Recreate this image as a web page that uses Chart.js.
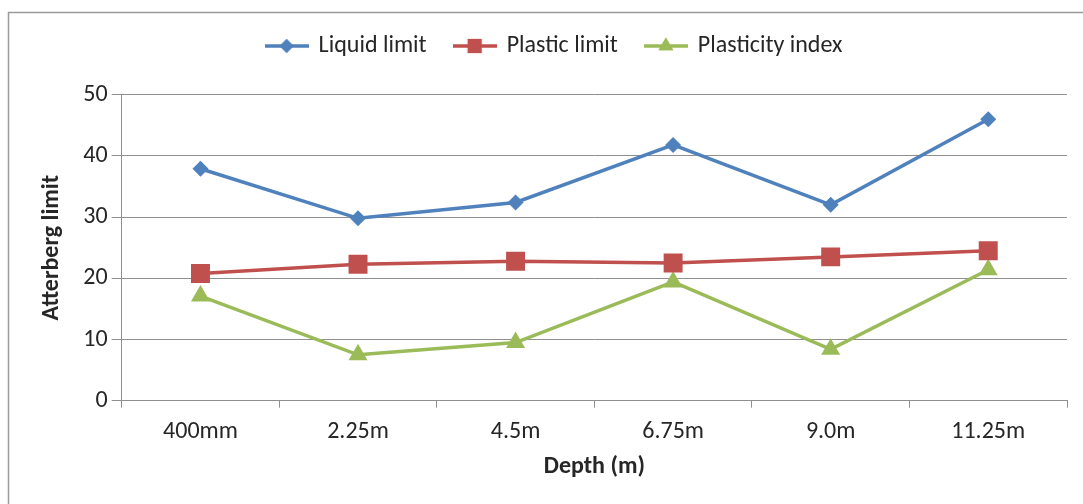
<!DOCTYPE html>
<html>
<head>
<meta charset="utf-8">
<script src="https://cdn.jsdelivr.net/npm/chart.js@4"></script>
<style>
  html, body { margin: 0; padding: 0; background: #fff; }
</style>
</head>
<body>
<canvas id="lineChart" width="1083" height="504"></canvas>
<script>
const depths = ['400mm', '2.25m', '4.5m', '6.75m', '9.0m', '11.25m'];
const liquidLimit = [37.9, 29.8, 32.4, 41.8, 32.0, 46.0];
const plasticLimit = [20.8, 22.3, 22.8, 22.5, 23.5, 24.5];
const plasticityIndex = [17.1, 7.5, 9.5, 19.4, 8.4, 21.4];
const yTicks = [0, 10, 20, 30, 40, 50];

const blue = '#4f81bd';
const red = '#c0504d';
const green = '#9bbb59';
const textColor = '#262626';
const gridColor = '#8f8f8f';
const fontFamily = "Carlito, Lato, sans-serif";

// small line + marker picture for the legend
function legendSymbol(color, style, radius) {
    const c = document.createElement('canvas');
    c.width = 44;
    c.height = 22;
    const ctx = c.getContext('2d');
    ctx.strokeStyle = color;
    ctx.lineWidth = 3.5;
    ctx.beginPath();
    ctx.moveTo(0, 11);
    ctx.lineTo(44, 11);
    ctx.stroke();
    ctx.fillStyle = color;
    Chart.helpers.drawPoint(ctx, { pointStyle: style, radius: radius, rotation: 0, borderWidth: 0 }, 22, 11);
    ctx.fill();
    return c;
}

// extra room under the legend, and nudge it right like the original
const legendSpace = {
    id: 'legendSpace',
    beforeInit(chart) {
        const fit = chart.legend.fit;
        chart.legend.fit = function () {
            fit.call(this);
            this.height += 26.7;
        };
    },
    afterLayout(chart) {
        chart.legend.left += 21;
        chart.legend.right += 21;
    }
};

// grey frame of the chart
const chartFrame = {
    id: 'chartFrame',
    beforeDraw(chart) {
        const ctx = chart.ctx;
        ctx.save();
        ctx.strokeStyle = '#9a9a9a';
        ctx.lineWidth = 1.5;
        ctx.strokeRect(8.5, 12.5, 1200, 600);
        ctx.restore();
    }
};

const ctx = document.getElementById('lineChart');
new Chart(ctx, {
    type: 'line',
    data: {
        labels: depths,
        datasets: [
            {
                label: 'Liquid limit',
                data: liquidLimit,
                borderColor: blue,
                backgroundColor: blue,
                borderWidth: 3.5,
                pointStyle: 'rectRot',
                pointRadius: 8,
                pointBorderWidth: 0,
                legendImg: legendSymbol(blue, 'rectRot', 7)
            },
            {
                label: 'Plastic limit',
                data: plasticLimit,
                borderColor: red,
                backgroundColor: red,
                borderWidth: 3.5,
                pointStyle: 'rect',
                pointRadius: 13.4,
                pointBorderWidth: 0,
                legendImg: legendSymbol(red, 'rect', 10)
            },
            {
                label: 'Plasticity index',
                data: plasticityIndex,
                borderColor: green,
                backgroundColor: green,
                borderWidth: 3.5,
                pointStyle: 'triangle',
                pointRadius: 11,
                pointBorderWidth: 0,
                legendImg: legendSymbol(green, 'triangle', 8.5)
            }
        ]
    },
    options: {
        responsive: false,
        animation: false,
        layout: {
            padding: { top: 6, left: 0, right: 16, bottom: 0 }
        },
        plugins: {
            legend: {
                position: 'top',
                labels: {
                    usePointStyle: true,
                    pointStyleWidth: 40,
                    padding: 28,
                    color: textColor,
                    font: { family: fontFamily, size: 24 },
                    generateLabels(chart) {
                        return chart.data.datasets.map((ds, i) => ({
                            text: ds.label,
                            pointStyle: ds.legendImg,
                            fillStyle: ds.borderColor,
                            strokeStyle: ds.borderColor,
                            lineWidth: 0,
                            fontColor: textColor,
                            datasetIndex: i
                        }));
                    }
                }
            },
            tooltip: { enabled: false }
        },
        scales: {
            x: {
                offset: true,
                afterFit(scale) { scale.height = 504 - 400.7; },
                grid: {
                    offset: true,
                    drawOnChartArea: false,
                    drawTicks: true,
                    tickLength: 7,
                    color: gridColor
                },
                border: { color: gridColor, width: 1 },
                ticks: {
                    color: textColor,
                    padding: 10,
                    font: { family: fontFamily, size: 24 },
                    maxRotation: 0
                },
                title: {
                    display: true,
                    text: 'Depth (m)',
                    color: textColor,
                    font: { family: fontFamily, size: 24, weight: 'bold' },
                    padding: { top: 0, bottom: 22.5 }
                }
            },
            y: {
                min: yTicks[0],
                max: yTicks[yTicks.length - 1],
                afterFit(scale) { scale.width = 121.7; },
                afterBuildTicks(scale) {
                    scale.ticks = yTicks.map(v => ({ value: v }));
                },
                grid: {
                    color: gridColor,
                    lineWidth: 1,
                    drawTicks: true,
                    tickLength: 10
                },
                border: { color: gridColor, width: 1 },
                ticks: {
                    color: textColor,
                    padding: 4,
                    font: { family: fontFamily, size: 24 }
                },
                title: {
                    display: true,
                    text: 'Atterberg limit',
                    color: textColor,
                    font: { family: fontFamily, size: 24, weight: 'bold' },
                    padding: { top: 37.6, bottom: 0 }
                }
            }
        }
    },
    plugins: [legendSpace, chartFrame]
});
</script>
</body>
</html>
